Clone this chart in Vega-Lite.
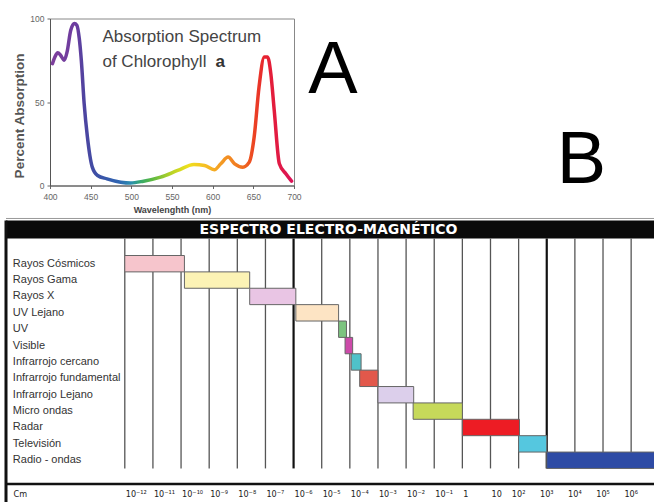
{
  "$schema": "https://vega.github.io/schema/vega-lite/v6.json",
  "background": "white",
  "padding": {"left": 4, "top": 13.5, "right": 0, "bottom": 0},
  "bounds": "flush",
  "spacing": 199,
  "config": {"view": {"stroke": null}, "font": "Liberation Sans"},
  "vconcat": [
    {
      "bounds": "flush",
      "spacing": 0,
      "hconcat": [
        {
          "width": 44, "height": 167,
          "data": {"values": []},
          "mark": "text",
          "encoding": {}
        },
        {
          "width": 244, "height": 167,
          "view": {"stroke": "#888", "strokeWidth": 1},
          "data": {"values": [
            {"nm":403,"pct":73},{"nm":406,"pct":77},{"nm":409.5,"pct":79.5},{"nm":413,"pct":78},{"nm":417.5,"pct":75},{"nm":421,"pct":80},{"nm":425.5,"pct":93},{"nm":430,"pct":97},{"nm":433,"pct":96},{"nm":436,"pct":88},{"nm":438.5,"pct":75},{"nm":442,"pct":49},{"nm":446,"pct":29},{"nm":449,"pct":18},{"nm":452,"pct":11},{"nm":458.5,"pct":6},{"nm":470,"pct":4},{"nm":487,"pct":2},{"nm":499,"pct":1.5},{"nm":515,"pct":2.6},{"nm":536,"pct":5},{"nm":557,"pct":9},{"nm":577,"pct":12.6},{"nm":590,"pct":12},{"nm":602,"pct":9.4},{"nm":610,"pct":13},{"nm":619,"pct":17},{"nm":627,"pct":13},{"nm":637,"pct":11},{"nm":645,"pct":14},{"nm":651,"pct":29},{"nm":657,"pct":59},{"nm":663.5,"pct":77},{"nm":667.5,"pct":77},{"nm":671.5,"pct":67},{"nm":675.7,"pct":45},{"nm":682,"pct":13},{"nm":690,"pct":7},{"nm":697,"pct":2.6}
          ]},
          "layer": [
            {
              "mark": {"type": "line", "interpolate": "monotone", "strokeWidth": 3.5, "strokeCap": "round",
                "color": {"gradient": "linear", "x1": 0, "y1": 0, "x2": 1, "y2": 0, "stops": [
                  {"offset": 0, "color": "#7d3f9c"},
                  {"offset": 0.099, "color": "#6b3c9f"},
                  {"offset": 0.133, "color": "#4e44a0"},
                  {"offset": 0.187, "color": "#3c50a6"},
                  {"offset": 0.279, "color": "#2f66b2"},
                  {"offset": 0.33, "color": "#2b8fae"},
                  {"offset": 0.371, "color": "#38ab6a"},
                  {"offset": 0.415, "color": "#5ab843"},
                  {"offset": 0.493, "color": "#b4d228"},
                  {"offset": 0.568, "color": "#efe01c"},
                  {"offset": 0.643, "color": "#f6bd24"},
                  {"offset": 0.721, "color": "#f39323"},
                  {"offset": 0.789, "color": "#f07421"},
                  {"offset": 0.84, "color": "#ec4622"},
                  {"offset": 0.891, "color": "#e62131"},
                  {"offset": 1, "color": "#dc1458"}
                ]}},
              "encoding": {
                "x": {"field": "nm", "type": "quantitative",
                  "scale": {"domain": [400, 700], "nice": false, "zero": false},
                  "axis": {"values": [400, 450, 500, 550, 600, 650, 700], "grid": false, "labelFlush": false,
                    "labelFontSize": 8.5, "labelColor": "#666", "labelPadding": 4,
                    "tickSize": 3, "tickColor": "#666", "domainColor": "#555",
                    "title": "Wavelenghth (nm)", "titleFontSize": 9, "titleFontWeight": "bold",
                    "titleColor": "#444", "titlePadding": 4}},
                "y": {"field": "pct", "type": "quantitative",
                  "scale": {"domain": [0, 100], "nice": false},
                  "axis": {"values": [0, 50, 100], "grid": false, "labelFlush": false,
                    "labelFontSize": 8.5, "labelColor": "#666", "labelPadding": 3,
                    "tickSize": 3, "tickColor": "#666", "domainColor": "#555",
                    "title": "Percent Absorption", "titleFontSize": 13.5, "titleFontWeight": "bold",
                    "titleColor": "#555", "titleX": -30.5, "titleY": 97, "titleBaseline": "middle"}}
              }
            },
            {
              "data": {"values": [{}]},
              "mark": {"type": "text", "align": "left", "baseline": "alphabetic", "fontSize": 17, "color": "#444", "text": "Absorption Spectrum"},
              "encoding": {"x": {"datum": 464.5, "type": "quantitative"}, "y": {"datum": 85.8, "type": "quantitative"}}
            },
            {
              "data": {"values": [{}]},
              "mark": {"type": "text", "align": "left", "baseline": "alphabetic", "fontSize": 17, "color": "#444", "text": "of Chlorophyll"},
              "encoding": {"x": {"datum": 464.5, "type": "quantitative"}, "y": {"datum": 70.8, "type": "quantitative"}}
            },
            {
              "data": {"values": [{}]},
              "mark": {"type": "text", "align": "left", "baseline": "alphabetic", "fontSize": 17, "fontWeight": "bold", "color": "#333", "text": "a"},
              "encoding": {"x": {"datum": 603.5, "type": "quantitative"}, "y": {"datum": 70.8, "type": "quantitative"}}
            },
            {
              "data": {"values": [{}]},
              "mark": {"type": "text", "align": "center", "baseline": "alphabetic", "fontSize": 74, "color": "#000", "text": "A"},
              "encoding": {"x": {"datum": 748, "type": "quantitative"}, "y": {"datum": 55.1, "type": "quantitative"}}
            },
            {
              "data": {"values": [{}]},
              "mark": {"type": "text", "align": "center", "baseline": "alphabetic", "fontSize": 74, "color": "#000", "text": "B"},
              "encoding": {"x": {"datum": 1053.5, "type": "quantitative"}, "y": {"datum": 1.2, "type": "quantitative"}}
            }
          ]
        }
      ]
    },
    {
      "width": 649, "height": 285,
      "data": {"values": [
        {"name": "Rayos Cósmicos", "r0": 0, "r1": 1, "from": 0, "to": 2.12},
        {"name": "Rayos Gama", "r0": 1, "r1": 2, "from": 2.12, "to": 4.44},
        {"name": "Rayos X", "r0": 2, "r1": 3, "from": 4.44, "to": 6.08},
        {"name": "UV Lejano", "r0": 3, "r1": 4, "from": 6.08, "to": 7.6},
        {"name": "UV", "r0": 4, "r1": 5, "from": 7.6, "to": 7.88},
        {"name": "Visible", "r0": 5, "r1": 6, "from": 7.83, "to": 8.1},
        {"name": "Infrarrojo cercano", "r0": 6, "r1": 7, "from": 8.05, "to": 8.4},
        {"name": "Infrarrojo fundamental", "r0": 7, "r1": 8, "from": 8.35, "to": 9.0},
        {"name": "Infrarrojo Lejano", "r0": 8, "r1": 9, "from": 9.0, "to": 10.27},
        {"name": "Micro ondas", "r0": 9, "r1": 10, "from": 10.25, "to": 12.0},
        {"name": "Radar", "r0": 10, "r1": 11, "from": 12.0, "to": 14.03},
        {"name": "Televisión", "r0": 11, "r1": 12, "from": 14.0, "to": 15.0},
        {"name": "Radio - ondas", "r0": 12, "r1": 13, "from": 15.0, "to": 18.848}
      ]},
      "layer": [
        {
          "data": {"values": [{}]},
          "mark": {"type": "rule", "color": "#999", "strokeWidth": 1},
          "encoding": {
            "x": {"datum": -4.223, "type": "quantitative", "scale": {"domain": [-4.223, 18.848], "nice": false, "zero": false}, "axis": null},
            "x2": {"datum": 18.848},
            "y": {"datum": -2.26, "type": "quantitative", "scale": {"domain": [-2.32, 15.08], "nice": false, "zero": false, "reverse": true}, "axis": null}
          }
        },
        {
          "data": {"values": [{}]},
          "mark": {"type": "rect", "color": "#0a0a0a"},
          "encoding": {
            "x": {"datum": -4.223, "type": "quantitative", "axis": null},
            "x2": {"datum": 18.848},
            "y": {"datum": -2.137, "type": "quantitative", "axis": null},
            "y2": {"datum": -1.038}
          }
        },
        {
          "data": {"values": [{}]},
          "mark": {"type": "text", "font": "DejaVu Sans", "fontWeight": "bold", "fontSize": 14, "color": "white", "align": "center", "baseline": "middle", "text": "ESPECTRO ELECTRO-MAGNÉTICO"},
          "encoding": {
            "x": {"datum": 7.24, "type": "quantitative", "axis": null},
            "y": {"datum": -1.587, "type": "quantitative", "axis": null}
          }
        },
        {
          "data": {"values": [{"pos": 0}, {"pos": 1}, {"pos": 2}, {"pos": 3}, {"pos": 4}, {"pos": 5}, {"pos": 7}, {"pos": 8}, {"pos": 9}, {"pos": 10}, {"pos": 11}, {"pos": 12}, {"pos": 13}, {"pos": 14}, {"pos": 16}, {"pos": 17}, {"pos": 18}]},
          "mark": {"type": "rule", "color": "#555", "strokeWidth": 1.3},
          "encoding": {
            "x": {"field": "pos", "type": "quantitative", "axis": null},
            "y": {"datum": -1.038, "type": "quantitative", "axis": null},
            "y2": {"datum": 13.0}
          }
        },
        {
          "data": {"values": [{"pos": 6}, {"pos": 15}]},
          "mark": {"type": "rule", "color": "#111", "strokeWidth": 2.2},
          "encoding": {
            "x": {"field": "pos", "type": "quantitative", "axis": null},
            "y": {"datum": -1.038, "type": "quantitative", "axis": null},
            "y2": {"datum": 13.0}
          }
        },
        {
          "mark": {"type": "rect", "stroke": "#666", "strokeWidth": 1},
          "encoding": {
            "x": {"field": "from", "type": "quantitative", "axis": null},
            "x2": {"field": "to"},
            "y": {"field": "r0", "type": "quantitative", "axis": null},
            "y2": {"field": "r1"},
            "color": {"field": "name", "type": "nominal", "legend": null,
              "scale": {
                "domain": ["Rayos Cósmicos", "Rayos Gama", "Rayos X", "UV Lejano", "UV", "Visible", "Infrarrojo cercano", "Infrarrojo fundamental", "Infrarrojo Lejano", "Micro ondas", "Radar", "Televisión", "Radio - ondas"],
                "range": ["#f6c5cc", "#fcf3b5", "#e9c5e4", "#fde4c4", "#7cc47f", "#cc4aa9", "#4fc2c9", "#e2584b", "#dccfeb", "#c6d95a", "#ed1c24", "#55c7df", "#2e4ba5"]
              }}
          }
        },
        {
          "mark": {"type": "text", "align": "left", "baseline": "middle", "fontSize": 11, "color": "#333"},
          "encoding": {
            "x": {"datum": -3.98, "type": "quantitative", "axis": null},
            "y": {"field": "r0", "type": "quantitative", "axis": null},
            "yOffset": {"value": 8.2},
            "text": {"field": "name"}
          }
        },
        {
          "data": {"values": [{}]},
          "mark": {"type": "rule", "color": "#111", "strokeWidth": 2.5},
          "encoding": {
            "x": {"datum": -4.223, "type": "quantitative", "axis": null},
            "x2": {"datum": 18.848},
            "y": {"datum": 13.95, "type": "quantitative", "axis": null}
          }
        },
        {
          "data": {"values": [{}]},
          "mark": {"type": "rule", "color": "#111", "strokeWidth": 3},
          "encoding": {
            "x": {"datum": -4.223, "type": "quantitative", "axis": null},
            "y": {"datum": -2.137, "type": "quantitative", "axis": null},
            "y2": {"datum": 15.08}
          }
        },
        {
          "data": {"values": [
            {"pos": -3.99, "label": "Cm"},
            {"pos": 0, "label": "10⁻¹²"}, {"pos": 1, "label": "10⁻¹¹"}, {"pos": 2, "label": "10⁻¹⁰"},
            {"pos": 3, "label": "10⁻⁹"}, {"pos": 4, "label": "10⁻⁸"}, {"pos": 5, "label": "10⁻⁷"},
            {"pos": 6, "label": "10⁻⁶"}, {"pos": 7, "label": "10⁻⁵"}, {"pos": 8, "label": "10⁻⁴"},
            {"pos": 9, "label": "10⁻³"}, {"pos": 10, "label": "10⁻²"}, {"pos": 11, "label": "10⁻¹"},
            {"pos": 12, "label": "1"}, {"pos": 13, "label": "10"}
          ]},
          "mark": {"type": "text", "align": "left", "baseline": "middle", "dx": 1, "fontSize": 9, "font": "DejaVu Sans Condensed, DejaVu Sans", "color": "#222"},
          "encoding": {
            "x": {"field": "pos", "type": "quantitative", "axis": null},
            "y": {"datum": 14.56, "type": "quantitative", "axis": null},
            "text": {"field": "label"}
          }
        },
        {
          "data": {"values": [
            {"pos": 14, "label": "10²"}, {"pos": 15, "label": "10³"}, {"pos": 16, "label": "10⁴"},
            {"pos": 17, "label": "10⁵"}, {"pos": 18, "label": "10⁶"}
          ]},
          "mark": {"type": "text", "align": "center", "baseline": "middle", "fontSize": 9, "font": "DejaVu Sans Condensed, DejaVu Sans", "color": "#222"},
          "encoding": {
            "x": {"field": "pos", "type": "quantitative", "axis": null},
            "y": {"datum": 14.56, "type": "quantitative", "axis": null},
            "text": {"field": "label"}
          }
        }
      ]
    }
  ]
}
